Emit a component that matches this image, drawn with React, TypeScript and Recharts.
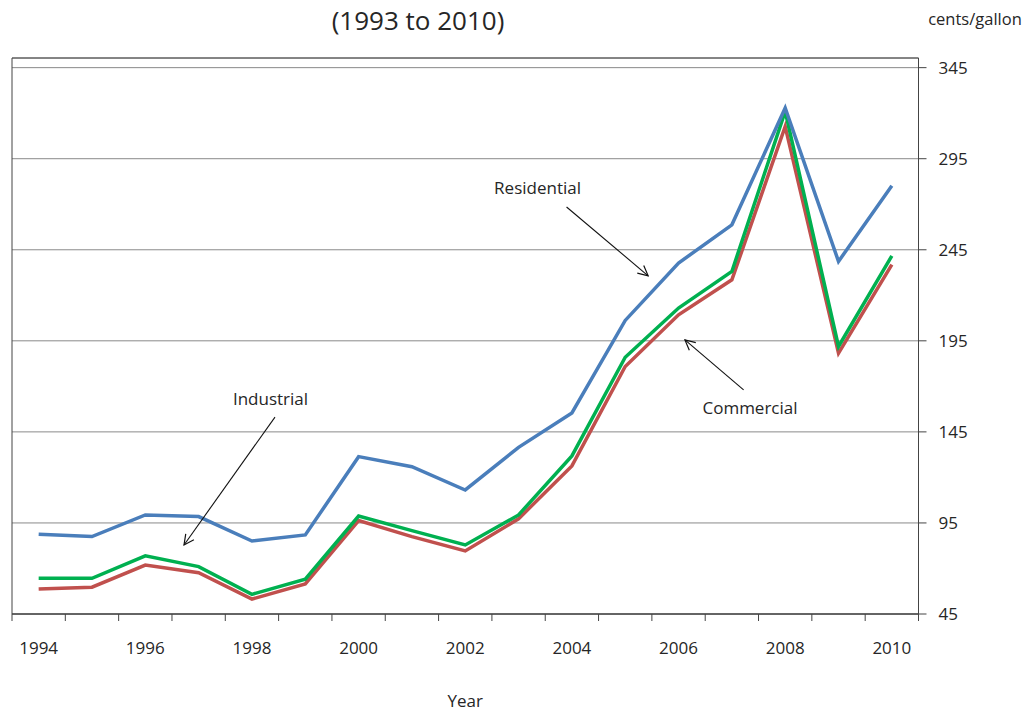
import React from 'react';
import {
  LineChart,
  Line,
  XAxis,
  YAxis,
  CartesianGrid,
  ReferenceLine,
  ReferenceDot,
  ReferenceArea,
} from 'recharts';

const years = ['1994', '1995', '1996', '1997', '1998', '1999', '2000', '2001', '2002', '2003', '2004', '2005', '2006', '2007', '2008', '2009', '2010'];
const residential = [88.8, 87.5, 99.4, 98.5, 85.1, 88.4, 131.4, 125.9, 113.1, 136.5, 155.4, 206.2, 237.7, 258.7, 322.9, 238.6, 280.2];
const commercial = [64.6, 64.6, 76.9, 71.0, 55.8, 64.1, 98.8, 90.8, 82.9, 99.4, 131.8, 186.0, 213.0, 233.1, 321.0, 191.9, 241.7];
const industrial = [58.7, 59.7, 71.9, 67.7, 53.2, 61.5, 96.3, 87.5, 79.6, 97.3, 126.3, 180.9, 209.3, 228.5, 312.7, 188.2, 236.8];
const yTicks = [45, 95, 145, 195, 245, 295, 345];
const bandTicks = [0, 1, 2, 3, 4, 5, 6, 7, 8, 9, 10, 11, 12, 13, 14, 15, 16, 17];
const yMin = 45;
const yMax = 350.3;

// annotation positions in data space (x in band units on the numeric axis, y in cents/gallon)
const annotations = [
  { text: 'Residential', tx: 9.856, ty: 279.1, from: { x: 10.4, y: 268.5 }, to: { x: 11.93, y: 230.7 } },
  { text: 'Industrial', tx: 4.848, ty: 163.1, from: { x: 4.932, y: 153.1 }, to: { x: 3.226, y: 82.9 } },
  { text: 'Commercial', tx: 13.84, ty: 158.2, from: { x: 13.72, y: 168.1 }, to: { x: 12.62, y: 195.5 } },
];

const data = years.map((y, i) => ({
  year: y,
  slot: i,
  residential: residential[i],
  commercial: commercial[i],
  industrial: industrial[i],
}));

const FONT = '"Open Sans", "DejaVu Sans", sans-serif';
const TEXT = '#262626';

const ArrowLine = (p: any) => (
  <line x1={p.x1} y1={p.y1} x2={p.x2} y2={p.y2} stroke="#111" strokeWidth={1.1} markerEnd="url(#openArrow)" />
);

// year labels sit in the middle of each band (between two boundary ticks), every other year
const YearTick = (props: any) => {
  const { x, y, payload, width } = props;
  const v = payload.value;
  if (v % 2 !== 0 || v >= years.length) return null;
  const half = Number(width) / (years.length * 2);
  return (
    <text x={x + half} y={y} dy="0.71em" textAnchor="middle" fill={TEXT} fontSize={17}>
      {years[v]}
    </text>
  );
};

export default function App() {
  return (
    <div style={{ position: 'absolute', left: 0, top: 0, width: 1026, height: 712, background: '#fff', fontFamily: FONT }}>
      <svg width={0} height={0} style={{ position: 'absolute' }}>
        <defs>
          <marker id="openArrow" viewBox="0 0 12 12" refX={11} refY={6} markerWidth={12} markerHeight={12} markerUnits="userSpaceOnUse" orient="auto">
            <path d="M1,1 L11,6 L1,11" fill="none" stroke="#111" strokeWidth={1.2} />
          </marker>
        </defs>
      </svg>
      <div
        style={{
          position: 'absolute',
          left: 418,
          top: 20,
          transform: 'translate(-50%, -50%)',
          fontSize: 26,
          lineHeight: 1,
          color: TEXT,
          whiteSpace: 'nowrap',
        }}
      >
        (1993 to 2010)
      </div>
      <div
        style={{
          position: 'absolute',
          left: 975,
          top: 19,
          transform: 'translate(-50%, -50%)',
          fontSize: 16.5,
          lineHeight: 1,
          color: TEXT,
          whiteSpace: 'nowrap',
        }}
      >
        cents/gallon
      </div>
      <LineChart width={1026} height={712} data={data} margin={{ top: 58, right: 37.5, left: 12, bottom: 38 }}>
        <CartesianGrid xAxisId="cat" vertical={false} stroke="#8a8a8a" strokeWidth={1} />
        <XAxis xAxisId="cat" dataKey="year" scale="band" hide height={0} />
        <XAxis
          xAxisId="num"
          dataKey="slot"
          type="number"
          domain={[0, 17]}
          ticks={bandTicks}
          allowDataOverflow
          height={60}
          tick={YearTick}
          tickSize={7}
          tickMargin={21}
          tickLine={{ stroke: '#444' }}
          axisLine={{ stroke: '#444' }}
          label={{ value: 'Year', position: 'bottom', offset: 21, fill: TEXT, fontSize: 17 }}
        />
        <YAxis
          orientation="right"
          domain={[yMin, yMax]}
          ticks={yTicks}
          allowDataOverflow
          width={70}
          tickSize={8}
          tickMargin={12}
          tick={{ fill: TEXT, fontSize: 17 }}
          tickLine={{ stroke: '#444' }}
          axisLine={{ stroke: '#444' }}
        />
        <ReferenceArea xAxisId="num" x1={0} x2={17} y1={yMin} y2={yMax} fill="none" stroke="#444" strokeWidth={1} ifOverflow="visible" />
        <Line xAxisId="cat" dataKey="industrial" stroke="#c0504d" strokeWidth={3.5} dot={false} type="linear" isAnimationActive={false} />
        <Line xAxisId="cat" dataKey="commercial" stroke="#00b050" strokeWidth={3.5} dot={false} type="linear" isAnimationActive={false} />
        <Line xAxisId="cat" dataKey="residential" stroke="#4a7ebb" strokeWidth={3.5} dot={false} type="linear" isAnimationActive={false} />
        {annotations.map((a) => (
          <ReferenceLine
            key={a.text + '-arrow'}
            xAxisId="num"
            segment={[a.from, a.to]}
            shape={ArrowLine}
          />
        ))}
        {annotations.map((a) => (
          <ReferenceDot
            key={a.text + '-label'}
            xAxisId="num"
            x={a.tx}
            y={a.ty}
            r={0}
            fill="none"
            stroke="none"
            label={{ value: a.text, position: 'center', fill: TEXT, fontSize: 17 }}
          />
        ))}
      </LineChart>
    </div>
  );
}
